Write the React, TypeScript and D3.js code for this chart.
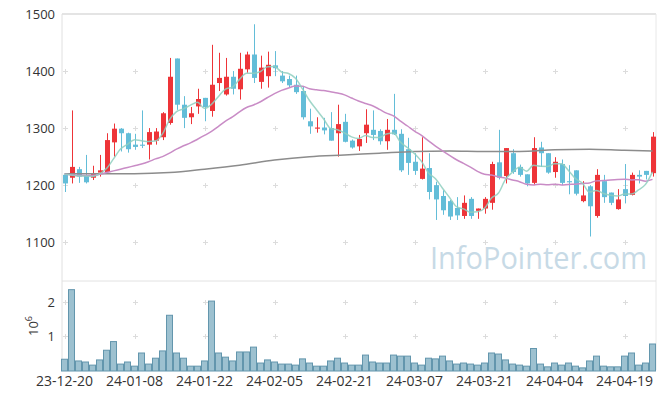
import React from "react";
import * as d3 from "d3";

// trading days shown (yy-mm-dd)
const dates = [
  "23-12-20", "23-12-21", "23-12-22", "23-12-26", "23-12-27", "23-12-28",
  "24-01-02", "24-01-03", "24-01-04", "24-01-05", "24-01-08", "24-01-09", "24-01-10", "24-01-11", "24-01-12",
  "24-01-15", "24-01-16", "24-01-17", "24-01-18", "24-01-19", "24-01-22", "24-01-23", "24-01-24", "24-01-25", "24-01-26",
  "24-01-29", "24-01-30", "24-01-31", "24-02-01", "24-02-02", "24-02-05", "24-02-06", "24-02-07", "24-02-08",
  "24-02-13", "24-02-14", "24-02-15", "24-02-16", "24-02-19", "24-02-20", "24-02-21", "24-02-22", "24-02-23",
  "24-02-26", "24-02-27", "24-02-28", "24-02-29", "24-03-04", "24-03-05", "24-03-06", "24-03-07", "24-03-08",
  "24-03-11", "24-03-12", "24-03-13", "24-03-14", "24-03-15", "24-03-18", "24-03-19", "24-03-20", "24-03-21", "24-03-22",
  "24-03-25", "24-03-26", "24-03-27", "24-03-28", "24-03-29", "24-04-01", "24-04-02", "24-04-03", "24-04-04", "24-04-05",
  "24-04-08", "24-04-09", "24-04-11", "24-04-12", "24-04-15", "24-04-16", "24-04-17", "24-04-18", "24-04-19",
  "24-04-22", "24-04-23", "24-04-24", "24-04-25",
];

const opens = [
  1218, 1213, 1228, 1217, 1213, 1222, 1223, 1275, 1299, 1291, 1271, 1271, 1271, 1278, 1284,
  1309, 1422, 1341, 1319, 1338, 1353, 1330, 1379, 1359, 1390, 1368, 1403, 1429, 1381, 1391,
  1410, 1392, 1386, 1376, 1365, 1312, 1299, 1301, 1300, 1291, 1311, 1278, 1268, 1291, 1297,
  1295, 1277, 1297, 1290, 1263, 1241, 1211, 1230, 1200, 1181, 1172, 1160, 1146, 1176, 1155,
  1159, 1169, 1240, 1216, 1256, 1232, 1219, 1204, 1266, 1256, 1223, 1237, 1207, 1226, 1172,
  1198, 1146, 1207, 1187, 1158, 1193, 1183, 1218, 1225, 1221,
];
const highs = [
  1220, 1331, 1232, 1253, 1234, 1253, 1291, 1308, 1300, 1292, 1290, 1331, 1300, 1300, 1328,
  1423, 1422, 1356, 1337, 1369, 1353, 1446, 1432, 1423, 1400, 1432, 1434, 1482, 1427, 1434,
  1435, 1400, 1392, 1392, 1374, 1334, 1319, 1318, 1328, 1341, 1325, 1280, 1288, 1333, 1331,
  1298, 1316, 1360, 1298, 1283, 1256, 1284, 1256, 1206, 1191, 1174, 1179, 1182, 1179, 1159,
  1179, 1241, 1297, 1265, 1263, 1236, 1219, 1284, 1276, 1256, 1249, 1245, 1235, 1226, 1207,
  1200, 1228, 1218, 1187, 1193, 1237, 1222, 1226, 1225, 1293,
];
const lows = [
  1188, 1203, 1204, 1203, 1209, 1215, 1222, 1250, 1259, 1257, 1262, 1265, 1245, 1271, 1279,
  1306, 1332, 1300, 1307, 1325, 1312, 1320, 1365, 1357, 1359, 1350, 1397, 1379, 1369, 1371,
  1391, 1379, 1372, 1360, 1315, 1290, 1292, 1289, 1278, 1250, 1275, 1264, 1260, 1274, 1279,
  1271, 1262, 1288, 1223, 1218, 1218, 1210, 1175, 1139, 1148, 1139, 1139, 1141, 1141, 1141,
  1150, 1157, 1210, 1203, 1220, 1215, 1198, 1200, 1232, 1220, 1213, 1200, 1184, 1182, 1170,
  1110, 1143, 1169, 1165, 1157, 1168, 1182, 1203, 1210, 1215,
];
const closes = [
  1203, 1232, 1215, 1205, 1221, 1226, 1279, 1299, 1291, 1263, 1267, 1269, 1293, 1294, 1326,
  1390, 1341, 1318, 1326, 1351, 1337, 1376, 1388, 1390, 1369, 1404, 1429, 1388, 1406, 1411,
  1405, 1382, 1375, 1363, 1319, 1303, 1301, 1296, 1278, 1307, 1276, 1266, 1281, 1306, 1288,
  1277, 1297, 1289, 1226, 1239, 1225, 1229, 1188, 1175, 1156, 1145, 1147, 1169, 1146, 1159,
  1176, 1237, 1213, 1265, 1223, 1218, 1203, 1265, 1256, 1222, 1241, 1204, 1205, 1185, 1182,
  1163, 1218, 1179, 1169, 1175, 1181, 1218, 1215, 1218, 1285,
];
// volume, millions of shares
const volumes = [
  0.34, 2.35, 0.29, 0.26, 0.17, 0.32, 0.6, 0.85, 0.2, 0.26, 0.14, 0.52, 0.2, 0.37, 0.58,
  1.61, 0.52, 0.37, 0.14, 0.14, 0.29, 2.02, 0.52, 0.4, 0.29, 0.55, 0.55, 0.69, 0.23, 0.32,
  0.26, 0.2, 0.2, 0.17, 0.35, 0.23, 0.14, 0.14, 0.29, 0.37, 0.23, 0.17, 0.17, 0.46, 0.26,
  0.23, 0.23, 0.46, 0.43, 0.43, 0.23, 0.17, 0.37, 0.35, 0.43, 0.29, 0.2, 0.23, 0.2, 0.17,
  0.23, 0.52, 0.49, 0.32, 0.2, 0.17, 0.14, 0.65, 0.2, 0.12, 0.23, 0.17, 0.23, 0.14, 0.09,
  0.29, 0.43, 0.14, 0.12, 0.12, 0.43, 0.52, 0.17, 0.23, 0.78,
];

// moving-average values before enough visible closes exist
const ma5Head = [1219, 1218, 1216, 1216];
const ma20Head = [
  1219, 1218, 1217, 1217, 1217, 1219, 1222, 1225, 1228, 1231,
  1234, 1237, 1241, 1246, 1250, 1256, 1263, 1269, 1274,
];
// long moving average, sampled every few days
const maLongIdx = [0, 5, 10, 15, 20, 25, 30, 35, 40, 45, 50, 55, 60, 65, 70, 75, 80, 84];
const maLong = [1220, 1220, 1220, 1222, 1228, 1235, 1244, 1250, 1253, 1256, 1259, 1260, 1259, 1259, 1262, 1263, 1261, 1260];

const priceTicks = [1500, 1400, 1300, 1200, 1100];
const volTicks = [2, 1];
const dateTickIdx = [0, 10, 20, 30, 40, 50, 60, 70, 80];

const UP = "#ee3438";
const DOWN = "#63bdd8";

export default function App() {
  const W = 665, H = 399;
  const left = 61, right = 656, top = 14, split = 281, bottom = 370;

  const idx = d3.range(dates.length);
  const x = d3.scaleBand<number>().domain(idx).range([left, right]).padding(0);
  const cx = (i: number) => (x(i) as number) + x.bandwidth() / 2;
  const y = d3.scaleLinear().domain([1032, 1500]).range([split, top]);
  const yv = d3.scaleLinear().domain([0, 2.6]).range([bottom + 1, split]);

  const movAvg = (n: number, head: number[]) =>
    idx.map((i) => (i < n - 1 ? head[i] : (d3.mean(closes.slice(i - n + 1, i + 1)) as number)));
  const ma5 = movAvg(5, ma5Head);
  const ma20 = movAvg(20, ma20Head);

  const line = d3
    .line<[number, number]>()
    .x((d) => cx(d[0]))
    .y((d) => y(d[1]))
    .curve(d3.curveMonotoneX);

  const bodyW = 5;
  const font = "'Open Sans', 'Noto Sans', sans-serif";

  const cross = (px: number, py: number, k: string) => (
    <g key={k} stroke="#dcdcdc" strokeWidth={1}>
      <line x1={px - 2.5} x2={px + 2.5} y1={py} y2={py} />
      <line x1={px} x2={px} y1={py - 2.5} y2={py + 2.5} />
    </g>
  );

  return (
    <svg width={W} height={H} style={{ position: "absolute", left: 0, top: 0, background: "#fff" }}>
      {/* frame */}
      <rect x={left + 1} y={top} width={right - left - 1} height={bottom - top} fill="#fff" />
      <line x1={left + 1} x2={right} y1={top} y2={top} stroke="#e4e4e4" strokeWidth={2} />
      <line x1={left + 1} x2={left + 1} y1={top} y2={bottom} stroke="#e0e0e0" />
      <line x1={right} x2={right} y1={top} y2={bottom} stroke="#e8e8e8" />
      <line x1={left + 1} x2={right} y1={split} y2={split} stroke="#e2e2e2" />
      <line x1={left + 1} x2={right} y1={bottom + 0.5} y2={bottom + 0.5} stroke="#e2e2e2" />

      {/* grid crosses */}
      {dateTickIdx.map((i) =>
        priceTicks.slice(1).map((p) => cross(Math.round(cx(i)) + 0.5, Math.round(y(p)) + 0.5, `p${i}-${p}`))
      )}
      {dateTickIdx.map((i) =>
        volTicks.map((v) => cross(Math.round(cx(i)) + 0.5, Math.round(yv(v)) + 0.5, `v${i}-${v}`))
      )}

      {/* watermark */}
      <text x={430} y={269} fontFamily={font} fontSize={31} fill="#c7dae6" textLength={217} lengthAdjust="spacingAndGlyphs">
        InfoPointer.com
      </text>

      {/* volume */}
      {idx.map((i) => (
        <rect
          key={`vol${i}`}
          x={(x(i) as number) + 0.5}
          y={yv(volumes[i])}
          width={x.bandwidth() - 1}
          height={yv(0) - yv(volumes[i])}
          fill="#9dc1d0"
          stroke="#6396ad"
          strokeWidth={1}
        />
      ))}

      {/* candles */}
      {idx.map((i) => {
        const up = closes[i] >= opens[i];
        const c = up ? UP : DOWN;
        const x0 = Math.round(cx(i));
        const yTop = y(Math.max(opens[i], closes[i]));
        const yBot = y(Math.min(opens[i], closes[i]));
        return (
          <g key={`c${i}`}>
            <line x1={x0 + 0.5} x2={x0 + 0.5} y1={y(highs[i])} y2={y(lows[i])} stroke={c} strokeWidth={1} />
            <rect x={x0 + 0.5 - bodyW / 2} y={yTop} width={bodyW} height={Math.max(1, yBot - yTop)} fill={c} />
          </g>
        );
      })}

      {/* moving averages */}
      <path d={line(maLongIdx.map((i, k) => [i, maLong[k]]) as any) || ""} fill="none" stroke="#8c8c8c" strokeWidth={1.5} />
      <path d={line(idx.map((i) => [i, ma20[i]]) as any) || ""} fill="none" stroke="#c98cc6" strokeWidth={1.5} />
      <path d={line(idx.map((i) => [i, ma5[i]]) as any) || ""} fill="none" stroke="#8fcfc0" strokeWidth={1.5} opacity={0.85} />

      {/* axes labels */}
      <g fontFamily={font} fontSize={13} fill="#333">
        {priceTicks.map((p) => (
          <text key={`pt${p}`} x={55} y={y(p)} textAnchor="end" dominantBaseline="central">
            {p}
          </text>
        ))}
        {volTicks.map((v) => (
          <text key={`vt${v}`} x={55} y={yv(v)} textAnchor="end" dominantBaseline="central">
            {v}
          </text>
        ))}
        <text transform={`translate(38,326) rotate(-90)`} textAnchor="middle">
          10<tspan dy={-6} fontSize={9}>6</tspan>
        </text>
        {dateTickIdx.map((i) => (
          <text key={`dt${i}`} x={cx(i)} y={386} textAnchor="middle" fontSize={14}>
            {dates[i]}
          </text>
        ))}
      </g>
    </svg>
  );
}
